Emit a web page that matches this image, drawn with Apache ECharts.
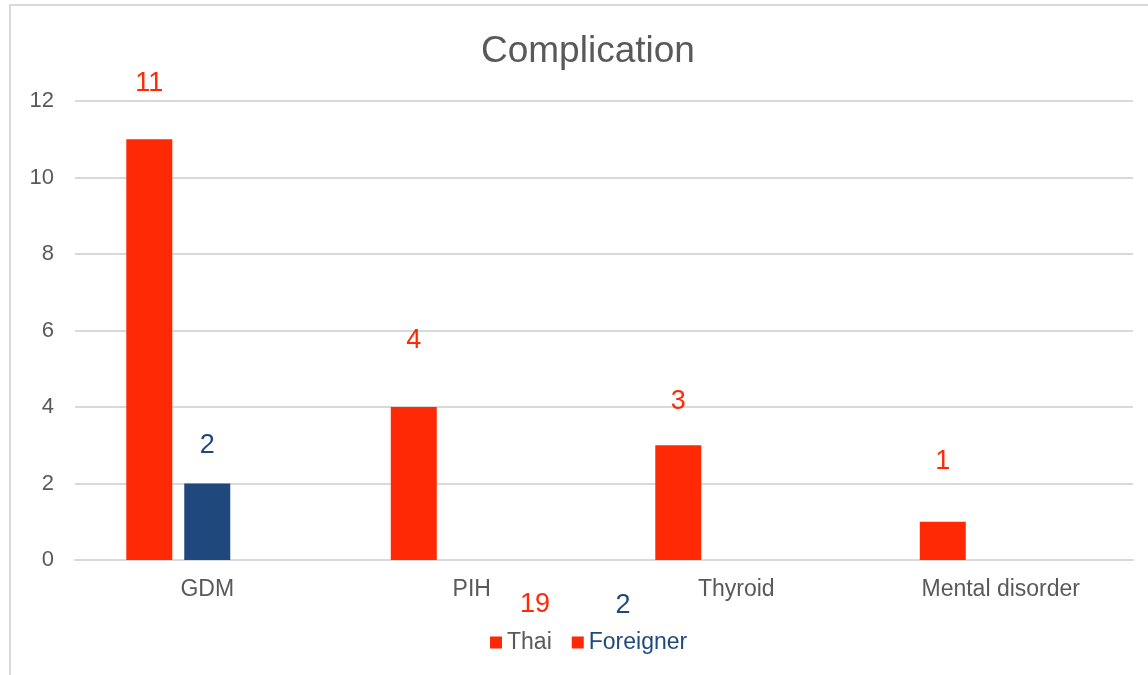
<!DOCTYPE html>
<html>
<head>
<meta charset="utf-8">
<script src="https://cdn.jsdelivr.net/npm/echarts@6/dist/echarts.min.js"></script>
<style>html,body{margin:0;padding:0;background:#fff}#c{width:1148px;height:675px}</style>
</head>
<body>
<div id="c"></div>
<script>
const categories = ['GDM', 'PIH', 'Thyroid', 'Mental disorder'];
const thaiValues = [11, 4, 3, 1];
const foreignerValues = [2, '-', '-', '-'];
const hiddenValues = ['-', '-', '-', '-'];
const yTicks = [0, 2, 4, 6, 8, 10, 12];
const totalLabels = ['19', '2'];
const thaiLabelGap = [42, 53, 30, 47];
const foreignerLabelGap = [24, 0, 0, 0];

const RED = '#ff2905';
const BLUE = '#1f497d';
const GRAY = '#595959';
const FONT = 'Liberation Sans, Arial, sans-serif';

const chart = echarts.init(document.getElementById('c'), null, {renderer: 'canvas'});

function withLabels(values, gaps, color) {
  return values.map((v, i) => v === '-' ? v : ({
    value: v,
    label: {show: true, position: 'top', distance: gaps[i], color: color, fontSize: 27, fontFamily: FONT}
  }));
}

chart.setOption({
  animation: false,
  backgroundColor: '#fff',
  title: {
    text: 'Complication', left: 476, top: 28,
    textStyle: {color: GRAY, fontSize: 37, fontWeight: 'normal', fontFamily: FONT}
  },
  grid: {left: 75, right: 15, top: 101, bottom: 115, containLabel: false},
  legend: {
    left: 485, top: 626, itemWidth: 12, itemHeight: 12, itemGap: 20, icon: 'rect',
    textStyle: {color: GRAY, fontSize: 23, fontFamily: FONT},
    data: [
      {name: 'Thai', itemStyle: {color: RED}},
      {name: 'Foreigner', itemStyle: {color: RED}, textStyle: {color: BLUE}}
    ]
  },
  xAxis: {
    type: 'category', data: categories,
    axisLine: {lineStyle: {color: '#d9d9d9', width: 2}},
    axisTick: {show: false},
    axisLabel: {color: GRAY, fontSize: 23, fontFamily: FONT, margin: 18}
  },
  yAxis: {
    type: 'value', min: yTicks[0], max: yTicks[yTicks.length - 1], interval: 2,
    axisLine: {show: false}, axisTick: {show: false},
    axisLabel: {color: GRAY, fontSize: 22, fontFamily: FONT, margin: 21},
    splitLine: {lineStyle: {color: '#d9d9d9', width: 2}}
  },
  series: [
    {name: 'Thai', type: 'bar', barWidth: 46, barGap: '26%', itemStyle: {color: RED},
     data: withLabels(thaiValues, thaiLabelGap, RED)},
    {name: 'Foreigner', type: 'bar', barWidth: 46, barGap: '26%', itemStyle: {color: BLUE},
     data: withLabels(foreignerValues, foreignerLabelGap, BLUE)},
    {name: 'hidden', type: 'bar', barWidth: 46, barGap: '26%', itemStyle: {color: 'transparent'},
     data: hiddenValues}
  ],
  graphic: [
    {type: 'rect', silent: true, z: -1, shape: {x: 10, y: 5, width: 1200, height: 1000},
     style: {fill: 'none', stroke: '#d9d9d9', lineWidth: 2}},
    {type: 'text', x: 535, y: 605, style: {
      text: totalLabels[0], fontSize: 27, fontFamily: FONT, align: 'center', verticalAlign: 'middle', fill: RED}},
    {type: 'text', x: 623, y: 606, style: {
      text: totalLabels[1], fontSize: 27, fontFamily: FONT, align: 'center', verticalAlign: 'middle', fill: BLUE}}
  ]
});
</script>
</body>
</html>
